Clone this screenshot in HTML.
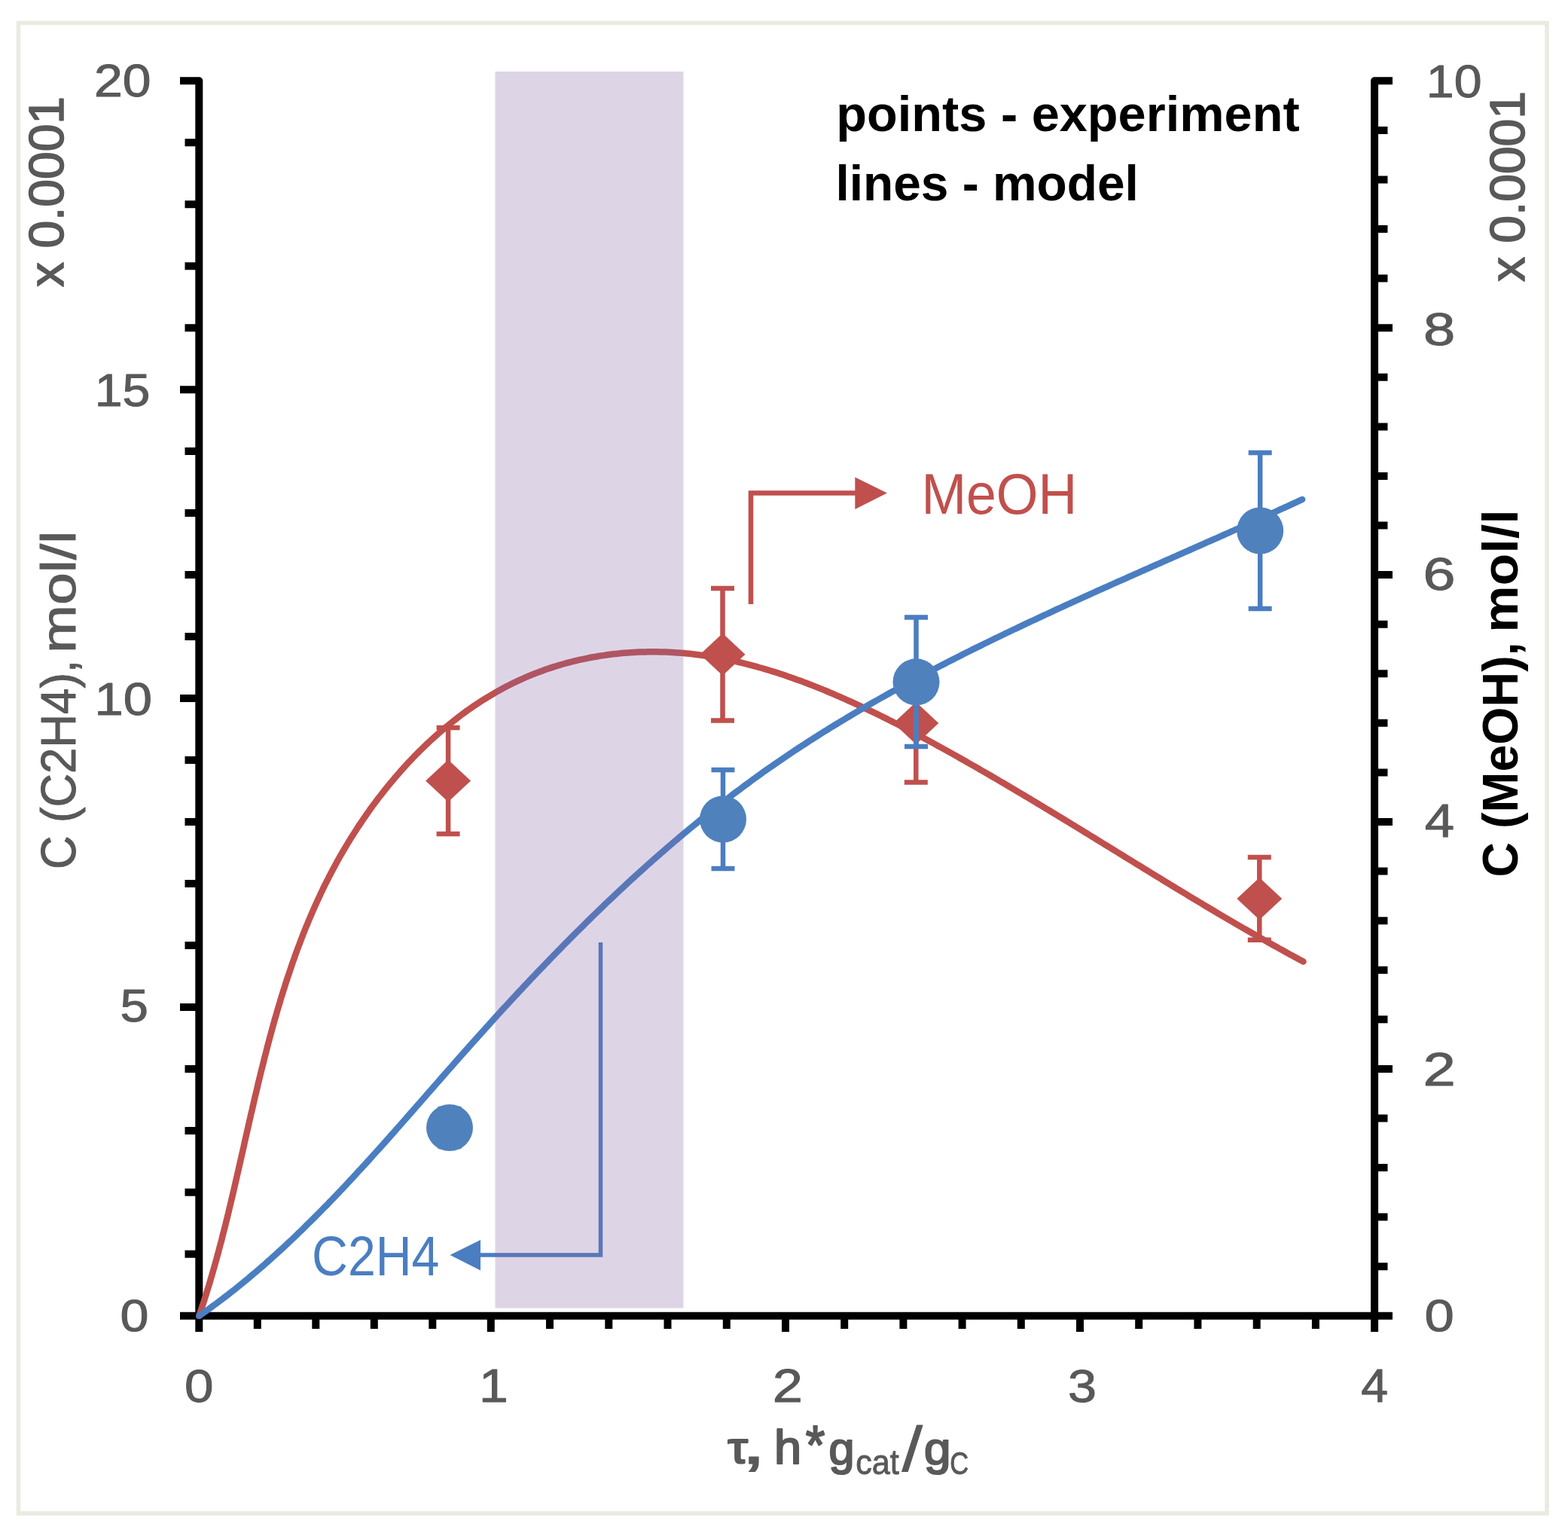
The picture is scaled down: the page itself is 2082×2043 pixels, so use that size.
<!DOCTYPE html>
<html><head><meta charset="utf-8"><title>C2H4 / MeOH vs tau</title>
<style>
html,body{margin:0;padding:0;background:#fff;}
svg{display:block;}
text{font-family:"Liberation Sans",Arial,sans-serif;font-kerning:none;}
</style></head>
<body>
<svg xmlns="http://www.w3.org/2000/svg" width="2082" height="2043" viewBox="0 0 2082 2043">
<rect x="0" y="0" width="2082" height="2043" fill="#ffffff"/>
<rect x="24.5" y="30.5" width="2029.5" height="1978.5" fill="none" stroke="#EAEAE0" stroke-width="5.5"/>
<path d="M239,107.3 H264.3 V1768 M1849,107.3 H1825.1 V1768 M239,1746.8 H1849 M264.3,1746.8 H239 M264.3,1664.8 H245.5 M264.3,1582.8 H245.5 M264.3,1500.9 H245.5 M264.3,1418.9 H245.5 M264.3,1336.9 H239 M264.3,1254.9 H245.5 M264.3,1173.0 H245.5 M264.3,1091.0 H245.5 M264.3,1009.0 H245.5 M264.3,927.0 H239 M264.3,845.1 H245.5 M264.3,763.1 H245.5 M264.3,681.1 H245.5 M264.3,599.1 H245.5 M264.3,517.2 H239 M264.3,435.2 H245.5 M264.3,353.2 H245.5 M264.3,271.2 H245.5 M264.3,189.3 H245.5 M264.3,107.3 H239 M1825.1,1746.8 H1849 M1825.1,1681.2 H1842.5 M1825.1,1615.6 H1842.5 M1825.1,1550.1 H1842.5 M1825.1,1484.5 H1842.5 M1825.1,1418.9 H1849 M1825.1,1353.3 H1842.5 M1825.1,1287.7 H1842.5 M1825.1,1222.2 H1842.5 M1825.1,1156.6 H1842.5 M1825.1,1091.0 H1849 M1825.1,1025.4 H1842.5 M1825.1,959.8 H1842.5 M1825.1,894.3 H1842.5 M1825.1,828.7 H1842.5 M1825.1,763.1 H1849 M1825.1,697.5 H1842.5 M1825.1,631.9 H1842.5 M1825.1,566.4 H1842.5 M1825.1,500.8 H1842.5 M1825.1,435.2 H1849 M1825.1,369.6 H1842.5 M1825.1,304.0 H1842.5 M1825.1,238.5 H1842.5 M1825.1,172.9 H1842.5 M1825.1,107.3 H1849 M264.3,1746.8 V1768 M341.8,1746.8 V1764 M419.3,1746.8 V1764 M496.8,1746.8 V1764 M574.3,1746.8 V1764 M651.8,1746.8 V1768 M730.0,1746.8 V1764 M808.3,1746.8 V1764 M886.5,1746.8 V1764 M964.8,1746.8 V1764 M1043.0,1746.8 V1768 M1121.2,1746.8 V1764 M1199.4,1746.8 V1764 M1277.6,1746.8 V1764 M1355.8,1746.8 V1764 M1434.0,1746.8 V1768 M1512.2,1746.8 V1764 M1590.4,1746.8 V1764 M1668.7,1746.8 V1764 M1746.9,1746.8 V1764 M1825.1,1746.8 V1768" stroke="#000" stroke-width="10" fill="none" stroke-linecap="butt" stroke-linejoin="round"/>
<text x="159.44" y="1766.63" font-size="58.62" font-weight="normal" fill="#595959" stroke="#595959" stroke-width="1.0" stroke-linejoin="round" textLength="37.93" lengthAdjust="spacingAndGlyphs">0</text>
<text x="159.51" y="1356.40" font-size="61.63" font-weight="normal" fill="#595959" stroke="#595959" stroke-width="1.0" stroke-linejoin="round" textLength="37.42" lengthAdjust="spacingAndGlyphs">5</text>
<text x="125.46" y="948.50" font-size="61.58" font-weight="normal" fill="#595959" stroke="#595959" stroke-width="1.0" stroke-linejoin="round" textLength="76.53" lengthAdjust="spacingAndGlyphs">10</text>
<text x="125.66" y="539.30" font-size="61.34" font-weight="normal" fill="#595959" stroke="#595959" stroke-width="1.0" stroke-linejoin="round" textLength="73.62" lengthAdjust="spacingAndGlyphs">15</text>
<text x="125.08" y="128.10" font-size="61.02" font-weight="normal" fill="#595959" stroke="#595959" stroke-width="1.0" stroke-linejoin="round" textLength="75.57" lengthAdjust="spacingAndGlyphs">20</text>
<text x="1891.44" y="1767.12" font-size="59.89" font-weight="normal" fill="#595959" stroke="#595959" stroke-width="1.0" stroke-linejoin="round" textLength="39.32" lengthAdjust="spacingAndGlyphs">0</text>
<text x="1889.58" y="1440.60" font-size="62.16" font-weight="normal" fill="#595959" stroke="#595959" stroke-width="1.0" stroke-linejoin="round" textLength="43.34" lengthAdjust="spacingAndGlyphs">2</text>
<text x="1891.77" y="1111.00" font-size="63.23" font-weight="normal" fill="#595959" stroke="#595959" stroke-width="1.0" stroke-linejoin="round" textLength="39.40" lengthAdjust="spacingAndGlyphs">4</text>
<text x="1889.47" y="782.70" font-size="61.86" font-weight="normal" fill="#595959" stroke="#595959" stroke-width="1.0" stroke-linejoin="round" textLength="43.03" lengthAdjust="spacingAndGlyphs">6</text>
<text x="1890.09" y="457.60" font-size="61.72" font-weight="normal" fill="#595959" stroke="#595959" stroke-width="1.0" stroke-linejoin="round" textLength="42.31" lengthAdjust="spacingAndGlyphs">8</text>
<text x="1893.85" y="128.90" font-size="61.44" font-weight="normal" fill="#595959" stroke="#595959" stroke-width="1.0" stroke-linejoin="round" textLength="73.74" lengthAdjust="spacingAndGlyphs">10</text>
<text x="245.00" y="1861.10" font-size="61.58" font-weight="normal" fill="#595959" stroke="#595959" stroke-width="1.0" stroke-linejoin="round" textLength="38.51" lengthAdjust="spacingAndGlyphs">0</text>
<text x="635.98" y="1860.90" font-size="62.21" font-weight="normal" fill="#595959" stroke="#595959" stroke-width="1.0" stroke-linejoin="round" textLength="38.83" lengthAdjust="spacingAndGlyphs">1</text>
<text x="1025.87" y="1860.90" font-size="62.16" font-weight="normal" fill="#595959" stroke="#595959" stroke-width="1.0" stroke-linejoin="round" textLength="40.16" lengthAdjust="spacingAndGlyphs">2</text>
<text x="1417.90" y="1860.70" font-size="61.86" font-weight="normal" fill="#595959" stroke="#595959" stroke-width="1.0" stroke-linejoin="round" textLength="38.01" lengthAdjust="spacingAndGlyphs">3</text>
<text x="1807.32" y="1860.90" font-size="63.37" font-weight="normal" fill="#595959" stroke="#595959" stroke-width="1.0" stroke-linejoin="round" textLength="35.87" lengthAdjust="spacingAndGlyphs">4</text>
<g>
<text transform="translate(100.4,1150.8) rotate(-90)" x="-3.1" y="0" font-size="65" font-weight="normal" fill="#595959" textLength="278.1" lengthAdjust="spacingAndGlyphs" stroke="#595959" stroke-width="1.0" stroke-linejoin="round">C (C2H4),</text>
<text transform="translate(100.4,862.0) rotate(-90)" x="-5.1" y="0" font-size="65" font-weight="normal" fill="#595959" textLength="162.4" lengthAdjust="spacingAndGlyphs" stroke="#595959" stroke-width="1.0" stroke-linejoin="round">mol/l</text>
</g>
<g>
<text transform="translate(2015.4,1161.9) rotate(-90)" x="-2.6" y="0" font-size="66" font-weight="bold" fill="#000" textLength="312.2" lengthAdjust="spacingAndGlyphs">C (MeOH),</text>
<text transform="translate(2015.4,835.2) rotate(-90)" x="-4.6" y="0" font-size="66" font-weight="bold" fill="#000" textLength="163.5" lengthAdjust="spacingAndGlyphs">mol/l</text>
</g>
<text transform="translate(84.2,380.2) rotate(-90)" x="-0.7" y="0" font-size="64" font-weight="normal" fill="#595959" textLength="252.9" lengthAdjust="spacingAndGlyphs" stroke="#595959" stroke-width="1.6" stroke-linejoin="round">x 0.0001</text>
<text transform="translate(2023.5,373.4) rotate(-90)" x="-0.7" y="0" font-size="65" font-weight="normal" fill="#595959" textLength="253.0" lengthAdjust="spacingAndGlyphs" stroke="#595959" stroke-width="1.6" stroke-linejoin="round">x 0.0001</text>
<text x="1110.3" y="173.7" font-size="66" font-weight="bold" fill="#000" textLength="615.3" lengthAdjust="spacingAndGlyphs">points - experiment</text>
<text x="1109.4" y="265.7" font-size="66" font-weight="bold" fill="#000" textLength="402.5" lengthAdjust="spacingAndGlyphs">lines - model</text>
<text x="1223.4" y="682.0" font-size="76" font-weight="normal" fill="#C0504D" textLength="206.9" lengthAdjust="spacingAndGlyphs">MeOH</text>
<text x="414.0" y="1693.0" font-size="74" font-weight="normal" fill="#4A7EC1" textLength="169.5" lengthAdjust="spacingAndGlyphs">C2H4</text>
<g>
<text x="966.24" y="1941.92" font-size="59.10" font-weight="normal" fill="#595959" stroke="#595959" stroke-width="2.2" stroke-linejoin="round" textLength="26.72" lengthAdjust="spacingAndGlyphs">τ</text>
<text x="983.71" y="1943.12" font-size="83.45" font-weight="normal" fill="#595959" stroke="#595959" stroke-width="1.2" stroke-linejoin="round" textLength="33.97" lengthAdjust="spacingAndGlyphs">,</text>
<text x="1027.90" y="1942.50" font-size="62.93" font-weight="normal" fill="#595959" stroke="#595959" stroke-width="2.2" stroke-linejoin="round" textLength="36.12" lengthAdjust="spacingAndGlyphs">h</text>
<text x="1069.74" y="1943.28" font-size="72.35" font-weight="normal" fill="#595959" stroke="#595959" stroke-width="2.2" stroke-linejoin="round" textLength="25.59" lengthAdjust="spacingAndGlyphs">*</text>
<text x="1100.53" y="1943.82" font-size="60.61" font-weight="normal" fill="#595959" stroke="#595959" stroke-width="2.2" stroke-linejoin="round" textLength="34.01" lengthAdjust="spacingAndGlyphs">g</text>
<text x="1136.22" y="1957.19" font-size="46.78" font-weight="normal" fill="#595959" stroke="#595959" stroke-width="0.9" stroke-linejoin="round" textLength="57.55" lengthAdjust="spacingAndGlyphs">cat</text>
<text x="1197.40" y="1953.18" font-size="83.88" font-weight="normal" fill="#595959" stroke="#595959" stroke-width="0.8" stroke-linejoin="round" textLength="27.60" lengthAdjust="spacingAndGlyphs">/</text>
<text x="1226.92" y="1943.82" font-size="60.61" font-weight="normal" fill="#595959" stroke="#595959" stroke-width="2.2" stroke-linejoin="round" textLength="35.49" lengthAdjust="spacingAndGlyphs">g</text>
<text x="1261.20" y="1957.23" font-size="43.22" font-weight="normal" fill="#595959" stroke="#595959" stroke-width="0.9" stroke-linejoin="round" textLength="24.86" lengthAdjust="spacingAndGlyphs">C</text>
</g>
<path d="M264.3,1746.8 L265.6,1743.1 L266.8,1739.4 L268.0,1735.7 L269.3,1732.0 L270.5,1728.3 L271.7,1724.6 L272.8,1720.9 L274.0,1717.2 L275.2,1713.4 L276.3,1709.7 L277.5,1706.0 L278.6,1702.2 L279.7,1698.4 L280.8,1694.7 L281.9,1690.9 L283.0,1687.1 L284.1,1683.3 L285.2,1679.5 L286.2,1675.7 L287.3,1671.9 L288.3,1668.1 L289.4,1664.3 L290.4,1660.5 L291.4,1656.6 L292.4,1652.8 L293.5,1649.0 L294.5,1645.1 L295.4,1641.3 L296.4,1637.4 L297.4,1633.5 L298.4,1629.7 L299.4,1625.8 L300.3,1621.9 L301.3,1618.1 L302.2,1614.2 L303.2,1610.3 L304.1,1606.4 L305.0,1602.5 L306.0,1598.6 L306.9,1594.7 L307.8,1590.8 L308.8,1586.9 L309.7,1583.0 L310.6,1579.1 L311.5,1575.1 L312.4,1571.2 L313.3,1567.3 L314.2,1563.4 L315.1,1559.4 L316.0,1555.5 L316.9,1551.6 L317.8,1547.6 L318.7,1543.7 L319.6,1539.7 L320.5,1535.8 L321.4,1531.8 L322.3,1527.9 L323.2,1523.9 L324.1,1520.0 L324.9,1516.0 L325.8,1512.1 L326.7,1508.1 L327.6,1504.2 L328.5,1500.2 L329.4,1496.2 L330.3,1492.3 L331.2,1488.3 L332.1,1484.4 L333.0,1480.4 L333.9,1476.4 L334.9,1472.5 L335.8,1468.5 L336.7,1464.5 L337.6,1460.6 L338.5,1456.6 L339.5,1452.6 L340.4,1448.7 L341.4,1444.7 L342.3,1440.8 L343.2,1436.8 L344.2,1432.8 L345.2,1428.9 L346.1,1424.9 L347.1,1421.0 L348.1,1417.0 L349.1,1413.1 L350.1,1409.1 L351.0,1405.2 L352.1,1401.2 L353.1,1397.3 L354.1,1393.3 L355.1,1389.4 L356.1,1385.4 L357.2,1381.5 L358.2,1377.5 L359.3,1373.6 L360.4,1369.7 L361.4,1365.8 L362.5,1361.8 L363.6,1357.9 L364.7,1354.0 L365.8,1350.1 L367.0,1346.1 L368.1,1342.2 L369.2,1338.3 L370.4,1334.4 L371.6,1330.5 L372.7,1326.6 L373.9,1322.7 L375.1,1318.9 L376.3,1315.0 L377.6,1311.1 L378.8,1307.2 L380.0,1303.3 L381.3,1299.5 L382.6,1295.6 L383.9,1291.8 L385.2,1287.9 L386.5,1284.1 L387.8,1280.2 L389.1,1276.4 L390.5,1272.6 L391.8,1268.7 L393.2,1264.9 L394.6,1261.1 L396.0,1257.3 L397.5,1253.5 L398.9,1249.7 L400.4,1245.9 L401.8,1242.1 L403.3,1238.3 L404.8,1234.6 L406.3,1230.8 L407.9,1227.1 L409.4,1223.3 L411.0,1219.6 L412.6,1215.8 L414.2,1212.1 L415.8,1208.4 L417.4,1204.7 L419.1,1201.0 L420.8,1197.3 L422.5,1193.6 L424.2,1189.9 L425.9,1186.2 L427.7,1182.5 L429.4,1178.9 L431.2,1175.2 L433.0,1171.6 L434.9,1168.0 L436.7,1164.3 L438.6,1160.7 L440.5,1157.1 L442.4,1153.5 L444.3,1149.9 L446.3,1146.3 L448.2,1142.8 L450.2,1139.2 L452.2,1135.7 L454.3,1132.1 L456.3,1128.6 L458.4,1125.1 L460.5,1121.6 L462.6,1118.1 L464.8,1114.6 L466.9,1111.1 L469.1,1107.7 L471.3,1104.2 L473.5,1100.8 L475.7,1097.4 L478.0,1094.0 L480.3,1090.6 L482.6,1087.2 L484.9,1083.8 L487.2,1080.5 L489.6,1077.1 L491.9,1073.8 L494.3,1070.5 L496.7,1067.3 L499.2,1064.0 L501.6,1060.7 L504.1,1057.5 L506.6,1054.3 L509.1,1051.1 L511.6,1047.9 L514.2,1044.7 L516.7,1041.6 L519.3,1038.5 L521.9,1035.4 L524.5,1032.3 L527.2,1029.2 L529.8,1026.2 L532.5,1023.1 L535.2,1020.1 L537.9,1017.1 L540.6,1014.2 L543.4,1011.2 L546.1,1008.3 L548.9,1005.4 L551.7,1002.5 L554.5,999.6 L557.4,996.8 L560.2,994.0 L563.1,991.2 L566.0,988.4 L568.9,985.7 L571.8,983.0 L574.7,980.3 L577.7,977.6 L580.7,975.0 L583.7,972.4 L586.7,969.8 L589.7,967.2 L592.7,964.7 L595.8,962.2 L598.9,959.7 L602.0,957.2 L605.1,954.8 L608.2,952.4 L611.3,950.0 L614.5,947.6 L617.7,945.3 L620.8,943.0 L624.1,940.8 L627.3,938.5 L630.5,936.3 L633.8,934.2 L637.0,932.0 L640.3,929.9 L643.6,927.8 L646.9,925.8 L650.3,923.8 L653.6,921.8 L657.0,919.8 L660.4,917.9 L663.8,916.0 L667.2,914.1 L670.6,912.3 L674.0,910.5 L677.5,908.8 L681.0,907.0 L684.5,905.3 L688.0,903.7 L691.5,902.1 L695.0,900.5 L698.5,898.9 L702.1,897.4 L705.7,895.9 L709.3,894.5 L712.9,893.1 L716.5,891.7 L720.1,890.4 L723.8,889.1 L727.4,887.8 L731.1,886.6 L734.8,885.4 L738.5,884.2 L742.2,883.1 L745.9,882.0 L749.6,881.0 L753.3,879.9 L757.1,879.0 L760.8,878.0 L764.6,877.1 L768.4,876.2 L772.1,875.4 L775.9,874.6 L779.7,873.8 L783.5,873.0 L787.3,872.3 L791.2,871.7 L795.0,871.0 L798.8,870.4 L802.7,869.9 L806.5,869.3 L810.4,868.8 L814.2,868.3 L818.1,867.9 L822.0,867.5 L825.8,867.1 L829.7,866.8 L833.6,866.5 L837.5,866.2 L841.4,866.0 L845.3,865.8 L849.2,865.6 L853.1,865.5 L857.0,865.4 L860.9,865.3 L864.8,865.3 L868.7,865.3 L872.6,865.3 L876.5,865.4 L880.4,865.5 L884.3,865.6 L888.2,865.8 L892.1,866.0 L896.0,866.2 L899.9,866.5 L903.8,866.8 L907.7,867.1 L911.6,867.4 L915.5,867.8 L919.4,868.2 L923.3,868.7 L927.1,869.2 L931.0,869.7 L934.9,870.2 L938.8,870.8 L942.6,871.4 L946.5,872.0 L950.4,872.7 L954.2,873.4 L958.1,874.1 L962.0,874.9 L965.8,875.6 L969.7,876.5 L973.5,877.3 L977.4,878.1 L981.2,879.0 L985.0,879.9 L988.9,880.9 L992.7,881.8 L996.5,882.8 L1000.4,883.9 L1004.2,884.9 L1008.0,886.0 L1011.8,887.0 L1015.6,888.2 L1019.5,889.3 L1023.3,890.5 L1027.1,891.6 L1030.9,892.8 L1034.7,894.1 L1038.5,895.3 L1042.3,896.6 L1046.1,897.9 L1049.8,899.2 L1053.6,900.5 L1057.4,901.9 L1061.2,903.2 L1065.0,904.6 L1068.7,906.1 L1072.5,907.5 L1076.3,908.9 L1080.0,910.4 L1083.8,911.9 L1087.5,913.4 L1091.3,914.9 L1095.1,916.4 L1098.8,918.0 L1102.5,919.6 L1106.3,921.2 L1110.0,922.8 L1113.8,924.4 L1117.5,926.0 L1121.2,927.7 L1124.9,929.3 L1128.7,931.0 L1132.4,932.7 L1136.1,934.4 L1139.8,936.1 L1143.5,937.8 L1147.2,939.6 L1150.9,941.3 L1154.6,943.1 L1158.3,944.9 L1162.0,946.6 L1165.7,948.4 L1169.4,950.2 L1173.1,952.1 L1176.8,953.9 L1180.4,955.7 L1184.1,957.6 L1187.8,959.5 L1191.4,961.3 L1195.1,963.2 L1198.8,965.1 L1202.4,967.0 L1206.1,968.9 L1209.7,970.8 L1213.4,972.7 L1217.0,974.7 L1220.7,976.6 L1224.3,978.6 L1227.9,980.5 L1231.6,982.5 L1235.2,984.4 L1238.8,986.4 L1242.4,988.4 L1246.1,990.4 L1249.7,992.4 L1253.3,994.4 L1256.9,996.4 L1260.5,998.4 L1264.1,1000.4 L1267.7,1002.4 L1271.3,1004.4 L1274.9,1006.5 L1278.5,1008.5 L1282.1,1010.5 L1285.6,1012.6 L1289.2,1014.6 L1292.8,1016.6 L1296.4,1018.7 L1299.9,1020.7 L1303.5,1022.8 L1307.1,1024.9 L1310.6,1026.9 L1314.2,1029.0 L1317.7,1031.0 L1321.3,1033.1 L1324.8,1035.2 L1328.4,1037.3 L1331.9,1039.3 L1335.4,1041.4 L1339.0,1043.5 L1342.5,1045.6 L1346.0,1047.7 L1349.5,1049.7 L1353.0,1051.8 L1356.6,1053.9 L1360.1,1056.0 L1363.6,1058.1 L1367.1,1060.2 L1370.6,1062.3 L1374.1,1064.4 L1377.6,1066.5 L1381.1,1068.6 L1384.5,1070.7 L1388.0,1072.8 L1391.5,1074.9 L1395.0,1077.0 L1398.4,1079.1 L1401.9,1081.2 L1405.4,1083.3 L1408.8,1085.4 L1412.3,1087.5 L1415.8,1089.6 L1419.2,1091.7 L1422.7,1093.8 L1426.1,1095.9 L1429.5,1098.0 L1433.0,1100.1 L1436.4,1102.2 L1439.8,1104.3 L1443.3,1106.4 L1446.7,1108.5 L1450.1,1110.6 L1453.5,1112.7 L1456.9,1114.8 L1460.3,1116.9 L1463.7,1119.0 L1467.1,1121.1 L1470.5,1123.2 L1473.9,1125.2 L1477.3,1127.3 L1480.7,1129.4 L1484.1,1131.5 L1487.5,1133.6 L1490.9,1135.7 L1494.3,1137.8 L1497.6,1139.8 L1501.0,1141.9 L1504.4,1144.0 L1507.8,1146.1 L1511.1,1148.1 L1514.5,1150.2 L1517.9,1152.3 L1521.3,1154.4 L1524.6,1156.4 L1528.0,1158.5 L1531.4,1160.6 L1534.7,1162.6 L1538.1,1164.7 L1541.5,1166.7 L1544.8,1168.8 L1548.2,1170.9 L1551.6,1172.9 L1554.9,1175.0 L1558.3,1177.0 L1561.7,1179.1 L1565.1,1181.1 L1568.4,1183.2 L1571.8,1185.2 L1575.2,1187.2 L1578.6,1189.3 L1581.9,1191.3 L1585.3,1193.3 L1588.7,1195.4 L1592.1,1197.4 L1595.5,1199.4 L1598.8,1201.5 L1602.2,1203.5 L1605.6,1205.5 L1609.0,1207.5 L1612.4,1209.5 L1615.8,1211.6 L1619.2,1213.6 L1622.6,1215.6 L1626.0,1217.6 L1629.5,1219.6 L1632.9,1221.6 L1636.3,1223.6 L1639.7,1225.6 L1643.1,1227.6 L1646.6,1229.6 L1650.0,1231.6 L1653.4,1233.5 L1656.9,1235.5 L1660.3,1237.5 L1663.8,1239.5 L1667.3,1241.5 L1670.7,1243.4 L1674.2,1245.4 L1677.7,1247.4 L1681.1,1249.3 L1684.6,1251.3 L1688.1,1253.2 L1691.6,1255.2 L1695.1,1257.1 L1698.6,1259.1 L1702.1,1261.0 L1705.7,1263.0 L1709.2,1264.9 L1712.7,1266.9 L1716.3,1268.8 L1719.8,1270.7 L1723.4,1272.6 L1726.9,1274.6 L1730.5,1276.5" fill="none" stroke="#C0504D" stroke-width="8.5" stroke-linecap="round" stroke-linejoin="round"/>
<path d="M595.1,966.1 V1107.1 M579.6,966.1 H610.6 M579.6,1107.1 H610.6 M959.5,781.0 V956.4 M944.0,781.0 H975.0 M944.0,956.4 H975.0 M1216.3,881.4 V1038.6 M1200.8,881.4 H1231.8 M1200.8,1038.6 H1231.8 M1672.3,1138.1 V1247.7 M1656.8,1138.1 H1687.8 M1656.8,1247.7 H1687.8" stroke="#C0504D" stroke-width="6.5" fill="none"/>
<path d="M565.1,1036.6 L595.1,1008.5999999999999 L625.1,1036.6 L595.1,1064.6 Z" fill="#C0504D"/>
<path d="M929.5,868.7 L959.5,840.7 L989.5,868.7 L959.5,896.7 Z" fill="#C0504D"/>
<path d="M1186.3,960.0 L1216.3,932.0 L1246.3,960.0 L1216.3,988.0 Z" fill="#C0504D"/>
<path d="M1642.3,1192.9 L1672.3,1164.9 L1702.3,1192.9 L1672.3,1220.9 Z" fill="#C0504D"/>
<path d="M264.4,1746.9 L267.6,1744.6 L270.9,1742.3 L274.1,1740.0 L277.4,1737.6 L280.6,1735.3 L283.8,1732.9 L287.0,1730.6 L290.2,1728.2 L293.3,1725.8 L296.5,1723.4 L299.7,1721.0 L302.8,1718.6 L305.9,1716.1 L309.1,1713.7 L312.2,1711.2 L315.3,1708.7 L318.4,1706.2 L321.5,1703.7 L324.5,1701.2 L327.6,1698.7 L330.6,1696.2 L333.7,1693.6 L336.7,1691.0 L339.8,1688.5 L342.8,1685.9 L345.8,1683.3 L348.8,1680.7 L351.8,1678.1 L354.7,1675.5 L357.7,1672.8 L360.7,1670.2 L363.6,1667.5 L366.6,1664.9 L369.5,1662.2 L372.5,1659.5 L375.4,1656.8 L378.3,1654.1 L381.2,1651.4 L384.1,1648.7 L387.0,1646.0 L389.9,1643.2 L392.8,1640.5 L395.6,1637.7 L398.5,1635.0 L401.4,1632.2 L404.2,1629.4 L407.0,1626.6 L409.9,1623.8 L412.7,1621.0 L415.5,1618.2 L418.4,1615.4 L421.2,1612.6 L424.0,1609.8 L426.8,1606.9 L429.6,1604.1 L432.4,1601.2 L435.2,1598.4 L437.9,1595.5 L440.7,1592.6 L443.5,1589.7 L446.2,1586.9 L449.0,1584.0 L451.7,1581.1 L454.5,1578.2 L457.2,1575.3 L460.0,1572.3 L462.7,1569.4 L465.4,1566.5 L468.2,1563.6 L470.9,1560.6 L473.6,1557.7 L476.3,1554.7 L479.0,1551.8 L481.7,1548.8 L484.5,1545.9 L487.2,1542.9 L489.9,1540.0 L492.5,1537.0 L495.2,1534.0 L497.9,1531.0 L500.6,1528.0 L503.3,1525.1 L506.0,1522.1 L508.7,1519.1 L511.3,1516.1 L514.0,1513.1 L516.7,1510.1 L519.3,1507.1 L522.0,1504.1 L524.7,1501.1 L527.3,1498.0 L530.0,1495.0 L532.7,1492.0 L535.3,1489.0 L538.0,1486.0 L540.6,1482.9 L543.3,1479.9 L546.0,1476.9 L548.6,1473.9 L551.3,1470.8 L553.9,1467.8 L556.6,1464.8 L559.2,1461.8 L561.9,1458.7 L564.5,1455.7 L567.2,1452.7 L569.8,1449.6 L572.5,1446.6 L575.2,1443.6 L577.8,1440.5 L580.5,1437.5 L583.1,1434.5 L585.8,1431.4 L588.4,1428.4 L591.1,1425.4 L593.8,1422.3 L596.4,1419.3 L599.1,1416.3 L601.8,1413.2 L604.4,1410.2 L607.1,1407.2 L609.8,1404.2 L612.4,1401.2 L615.1,1398.1 L617.8,1395.1 L620.5,1392.1 L623.1,1389.1 L625.8,1386.1 L628.5,1383.1 L631.2,1380.1 L633.9,1377.1 L636.6,1374.1 L639.3,1371.1 L642.0,1368.1 L644.7,1365.1 L647.4,1362.1 L650.1,1359.1 L652.8,1356.1 L655.5,1353.1 L658.2,1350.1 L660.9,1347.2 L663.7,1344.2 L666.4,1341.2 L669.1,1338.2 L671.8,1335.3 L674.6,1332.3 L677.3,1329.4 L680.0,1326.4 L682.8,1323.4 L685.5,1320.5 L688.3,1317.5 L691.0,1314.6 L693.8,1311.7 L696.5,1308.7 L699.3,1305.8 L702.1,1302.9 L704.8,1299.9 L707.6,1297.0 L710.4,1294.1 L713.1,1291.2 L715.9,1288.3 L718.7,1285.4 L721.5,1282.5 L724.3,1279.6 L727.1,1276.7 L729.9,1273.8 L732.7,1270.9 L735.5,1268.0 L738.3,1265.1 L741.1,1262.2 L743.9,1259.4 L746.7,1256.5 L749.5,1253.6 L752.4,1250.8 L755.2,1247.9 L758.0,1245.1 L760.8,1242.2 L763.7,1239.4 L766.5,1236.5 L769.4,1233.7 L772.2,1230.9 L775.1,1228.1 L777.9,1225.2 L780.8,1222.4 L783.7,1219.6 L786.5,1216.8 L789.4,1214.0 L792.3,1211.2 L795.2,1208.4 L798.1,1205.7 L801.0,1202.9 L803.8,1200.1 L806.7,1197.3 L809.6,1194.6 L812.6,1191.8 L815.5,1189.1 L818.4,1186.3 L821.3,1183.6 L824.2,1180.8 L827.2,1178.1 L830.1,1175.4 L833.0,1172.7 L836.0,1169.9 L838.9,1167.2 L841.9,1164.5 L844.8,1161.8 L847.8,1159.1 L850.7,1156.5 L853.7,1153.8 L856.7,1151.1 L859.7,1148.4 L862.7,1145.8 L865.6,1143.1 L868.6,1140.5 L871.6,1137.8 L874.6,1135.2 L877.6,1132.6 L880.7,1130.0 L883.7,1127.3 L886.7,1124.7 L889.7,1122.1 L892.8,1119.5 L895.8,1116.9 L898.8,1114.4 L901.9,1111.8 L904.9,1109.2 L908.0,1106.6 L911.1,1104.1 L914.1,1101.5 L917.2,1099.0 L920.3,1096.5 L923.4,1093.9 L926.4,1091.4 L929.5,1088.9 L932.6,1086.4 L935.7,1083.9 L938.9,1081.4 L942.0,1078.9 L945.1,1076.4 L948.2,1073.9 L951.4,1071.5 L954.5,1069.0 L957.6,1066.6 L960.8,1064.1 L963.9,1061.7 L967.1,1059.3 L970.3,1056.9 L973.4,1054.4 L976.6,1052.0 L979.8,1049.7 L983.0,1047.3 L986.2,1044.9 L989.4,1042.5 L992.6,1040.2 L995.8,1037.8 L999.0,1035.4 L1002.2,1033.1 L1005.5,1030.8 L1008.7,1028.5 L1011.9,1026.1 L1015.2,1023.8 L1018.4,1021.5 L1021.7,1019.2 L1025.0,1017.0 L1028.2,1014.7 L1031.5,1012.4 L1034.8,1010.2 L1038.1,1007.9 L1041.4,1005.7 L1044.7,1003.5 L1048.0,1001.2 L1051.3,999.0 L1054.6,996.8 L1057.9,994.6 L1061.3,992.4 L1064.6,990.2 L1068.0,988.1 L1071.3,985.9 L1074.6,983.7 L1078.0,981.6 L1081.4,979.4 L1084.7,977.3 L1088.1,975.2 L1091.5,973.0 L1094.9,970.9 L1098.3,968.8 L1101.6,966.7 L1105.0,964.6 L1108.5,962.5 L1111.9,960.5 L1115.3,958.4 L1118.7,956.3 L1122.1,954.3 L1125.5,952.2 L1129.0,950.2 L1132.4,948.1 L1135.8,946.1 L1139.3,944.1 L1142.7,942.0 L1146.2,940.0 L1149.7,938.0 L1153.1,936.0 L1156.6,934.0 L1160.1,932.0 L1163.5,930.1 L1167.0,928.1 L1170.5,926.1 L1174.0,924.2 L1177.5,922.2 L1181.0,920.2 L1184.5,918.3 L1188.0,916.4 L1191.5,914.4 L1195.0,912.5 L1198.5,910.6 L1202.0,908.7 L1205.6,906.7 L1209.1,904.8 L1212.6,902.9 L1216.2,901.1 L1219.7,899.2 L1223.2,897.3 L1226.8,895.4 L1230.3,893.5 L1233.9,891.7 L1237.4,889.8 L1241.0,887.9 L1244.6,886.1 L1248.1,884.2 L1251.7,882.4 L1255.3,880.6 L1258.8,878.7 L1262.4,876.9 L1266.0,875.1 L1269.6,873.3 L1273.2,871.4 L1276.8,869.6 L1280.3,867.8 L1283.9,866.0 L1287.5,864.2 L1291.1,862.4 L1294.7,860.6 L1298.3,858.9 L1302.0,857.1 L1305.6,855.3 L1309.2,853.5 L1312.8,851.8 L1316.4,850.0 L1320.0,848.2 L1323.6,846.5 L1327.3,844.7 L1330.9,843.0 L1334.5,841.2 L1338.2,839.5 L1341.8,837.8 L1345.4,836.0 L1349.1,834.3 L1352.7,832.6 L1356.3,830.9 L1360.0,829.1 L1363.6,827.4 L1367.3,825.7 L1370.9,824.0 L1374.6,822.3 L1378.2,820.6 L1381.9,818.9 L1385.5,817.2 L1389.2,815.5 L1392.8,813.8 L1396.5,812.1 L1400.1,810.4 L1403.8,808.7 L1407.5,807.0 L1411.1,805.4 L1414.8,803.7 L1418.4,802.0 L1422.1,800.3 L1425.8,798.7 L1429.4,797.0 L1433.1,795.3 L1436.8,793.7 L1440.4,792.0 L1444.1,790.4 L1447.8,788.7 L1451.5,787.0 L1455.1,785.4 L1458.8,783.7 L1462.5,782.1 L1466.1,780.4 L1469.8,778.8 L1473.5,777.2 L1477.2,775.5 L1480.8,773.9 L1484.5,772.2 L1488.2,770.6 L1491.9,769.0 L1495.6,767.3 L1499.2,765.7 L1502.9,764.1 L1506.6,762.4 L1510.3,760.8 L1513.9,759.2 L1517.6,757.5 L1521.3,755.9 L1525.0,754.3 L1528.6,752.7 L1532.3,751.0 L1536.0,749.4 L1539.7,747.8 L1543.3,746.2 L1547.0,744.5 L1550.7,742.9 L1554.4,741.3 L1558.0,739.7 L1561.7,738.1 L1565.4,736.4 L1569.0,734.8 L1572.7,733.2 L1576.4,731.6 L1580.0,730.0 L1583.7,728.3 L1587.4,726.7 L1591.0,725.1 L1594.7,723.5 L1598.4,721.9 L1602.0,720.2 L1605.7,718.6 L1609.3,717.0 L1613.0,715.4 L1616.7,713.8 L1620.3,712.1 L1624.0,710.5 L1627.6,708.9 L1631.3,707.3 L1634.9,705.7 L1638.6,704.0 L1642.2,702.4 L1645.9,700.8 L1649.5,699.1 L1653.1,697.5 L1656.8,695.9 L1660.4,694.3 L1664.1,692.6 L1667.7,691.0 L1671.3,689.4 L1674.9,687.7 L1678.6,686.1 L1682.2,684.5 L1685.8,682.8 L1689.4,681.2 L1693.1,679.5 L1696.7,677.9 L1700.3,676.2 L1703.9,674.6 L1707.5,673.0 L1711.1,671.3 L1714.7,669.6 L1718.3,668.0 L1721.9,666.3 L1725.5,664.7 L1729.1,663.0" fill="none" stroke="#4A7EC1" stroke-width="8.5" stroke-linecap="round" stroke-linejoin="round"/>
<path d="M597.0,1472.1 V1521.9 M581.5,1472.1 H612.5 M581.5,1521.9 H612.5 M960.0,1022.1 V1152.9 M944.5,1022.1 H975.5 M944.5,1152.9 H975.5 M1216.5,819.5 V991.1 M1201.0,819.5 H1232.0 M1201.0,991.1 H1232.0 M1673.2,601.0 V808.0 M1657.7,601.0 H1688.7 M1657.7,808.0 H1688.7" stroke="#4A7EC1" stroke-width="6.5" fill="none"/>
<circle cx="597.0" cy="1497.0" r="31" fill="#4F81BD"/>
<circle cx="960.0" cy="1087.5" r="31" fill="#4F81BD"/>
<circle cx="1216.5" cy="905.3" r="31" fill="#4F81BD"/>
<circle cx="1673.2" cy="704.5" r="31" fill="#4F81BD"/>
<path d="M997,802 V654.5 H1140" stroke="#C0504D" stroke-width="6.5" fill="none"/>
<path d="M1135.3,633.5 L1178,654.5 L1135.3,676 Z" fill="#C0504D"/>
<path d="M797.5,1251 V1666 H632" stroke="#4A7EC1" stroke-width="5.5" fill="none"/>
<path d="M638,1646 L597.5,1666 L638,1686.5 Z" fill="#4A7EC1"/>
<rect x="657.5" y="95" width="250" height="1641.5" fill="#8064A2" fill-opacity="0.27"/>
</svg>
</body></html>
